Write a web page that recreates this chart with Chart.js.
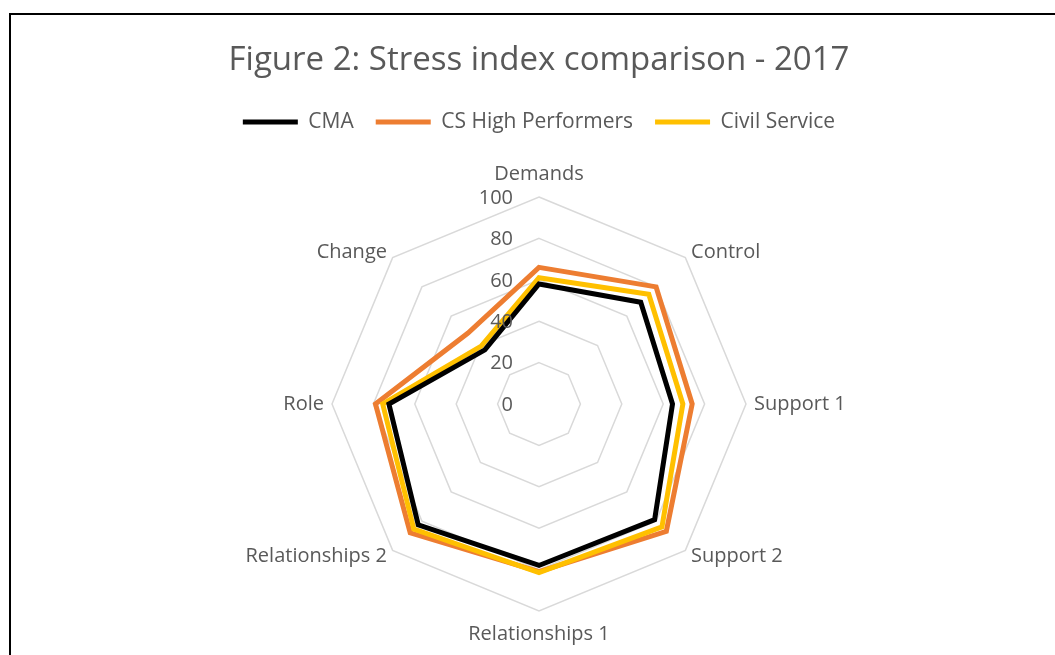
<!DOCTYPE html>
<html>
<head>
<meta charset="utf-8">
<script src="https://cdn.jsdelivr.net/npm/chart.js@4"></script>
<style>
  html, body { margin: 0; padding: 0; background: #fff; }
  #wrap { position: relative; width: 1055px; height: 655px; overflow: hidden; }
  #frame { position: absolute; left: 9px; top: 13px; width: 1200px; height: 800px; border: 2px solid #000; box-sizing: border-box; }
  #stressChart { position: absolute; left: 0; top: 0; }
</style>
</head>
<body>
<div id="wrap">
  <div id="frame"></div>
  <canvas id="stressChart" width="1055" height="655"></canvas>
</div>
<script>
const categories = ['Demands', 'Control', 'Support 1', 'Support 2', 'Relationships 1', 'Relationships 2', 'Role', 'Change'];
const cma = [58, 69.5, 64.5, 79, 78, 82.5, 72.5, 37];
const csHighPerformers = [66, 80, 74, 87, 81, 88, 79, 48.5];
const civilService = [61, 75, 69.5, 84, 81.5, 85.5, 75.5, 39.5];
const tickValues = [0, 20, 40, 60, 80, 100];

const grey = '#595959';
const fontFamily = '"Open Sans", sans-serif';

// push the radar down below the legend
const legendSpacer = {
  id: 'legendSpacer',
  beforeInit(chart) {
    const fit = chart.legend.fit;
    chart.legend.fit = function () {
      fit.call(this);
      this.height += 54;
    };
  }
};

// tick labels left of the centre, right aligned, and point labels centred on their spoke
const radarText = {
  id: 'radarText',
  afterDatasetsDraw(chart) {
    const scale = chart.scales.r;
    const c = chart.ctx;
    c.save();
    c.font = '20px ' + fontFamily;
    c.fillStyle = grey;
    c.textAlign = 'right';
    c.textBaseline = 'middle';
    tickValues.forEach(v => {
      const d = scale.getDistanceFromCenterForValue(v);
      c.fillText(String(v), scale.xCenter - 26, scale.yCenter - d + 1);
    });
    categories.forEach((name, i) => {
      const deg = Math.round(scale.getIndexAngle(i) * 180 / Math.PI) % 360;
      const vertical = deg === 0 || deg === 180;
      const pos = scale.getPointPosition(i, scale.drawingArea + (vertical ? 23 : 8));
      c.textAlign = vertical ? 'center' : (deg < 180 ? 'left' : 'right');
      c.fillText(name, pos.x, pos.y);
    });
    c.restore();
  }
};

const ctx = document.getElementById('stressChart').getContext('2d');
new Chart(ctx, {
  type: 'radar',
  data: {
    labels: categories,
    datasets: [
      { label: 'CMA', data: cma, borderColor: '#000000', backgroundColor: '#000000', borderWidth: 5, order: 0 },
      { label: 'CS High Performers', data: csHighPerformers, borderColor: '#ED7D31', backgroundColor: '#ED7D31', borderWidth: 5, order: 2 },
      { label: 'Civil Service', data: civilService, borderColor: '#FFC000', backgroundColor: '#FFC000', borderWidth: 5, order: 1 }
    ]
  },
  options: {
    responsive: false,
    animation: false,
    layout: { padding: { left: 23, right: 0, top: 0, bottom: 43 } },
    elements: {
      line: { fill: false, tension: 0, borderCapStyle: 'round' },
      point: { radius: 0, hoverRadius: 0 }
    },
    plugins: {
      title: {
        display: true,
        text: 'Figure 2: Stress index comparison - 2017',
        color: grey,
        font: { family: fontFamily, size: 33, weight: 'normal' },
        padding: { top: 41, bottom: 9 }
      },
      legend: {
        labels: {
          color: grey,
          font: { family: fontFamily, size: 21 },
          usePointStyle: true,
          pointStyle: 'line',
          pointStyleWidth: 55,
          padding: 22,
          sort: (a, b) => a.datasetIndex - b.datasetIndex
        }
      },
      tooltip: { enabled: false }
    },
    scales: {
      r: {
        min: 0,
        max: 100,
        ticks: { stepSize: 20, display: false },
        angleLines: { display: false },
        grid: { color: '#d9d9d9', lineWidth: 1.5 },
        pointLabels: { display: false }
      }
    }
  },
  plugins: [legendSpacer, radarText]
});
</script>
</body>
</html>
